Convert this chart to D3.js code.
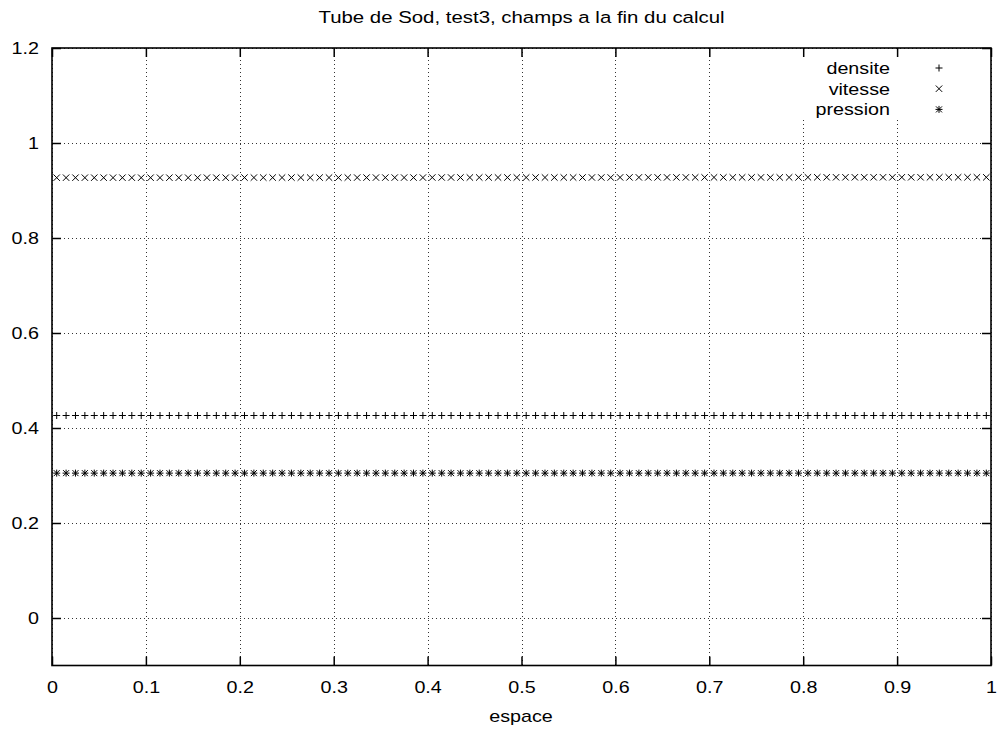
<!DOCTYPE html>
<html>
<head>
<meta charset="utf-8">
<script src="https://cdn.jsdelivr.net/npm/d3@7"></script>
<style>
html,body{margin:0;padding:0;background:#fff;}
svg{display:block;}
text{font-family:"Liberation Sans",Arial,Helvetica,sans-serif;font-size:17px;fill:#000;}
</style>
</head>
<body>
<svg id="chart" width="1001" height="731"></svg>
<script>
// ---- data ----
const title = "Tube de Sod, test3, champs a la fin du calcul";
const xLabel = "espace";
const seriesNames = ["densite", "vitesse", "pression"];
const xTickValues = [0, 0.1, 0.2, 0.3, 0.4, 0.5, 0.6, 0.7, 0.8, 0.9, 1];
const xTickLabels = ["0", "0.1", "0.2", "0.3", "0.4", "0.5", "0.6", "0.7", "0.8", "0.9", "1"];
const yTickValues = [0, 0.2, 0.4, 0.6, 0.8, 1, 1.2];
const yTickLabels = ["0", "0.2", "0.4", "0.6", "0.8", "1", "1.2"];
const espace = [
0.005,0.015,0.025,0.035,0.045,0.055,0.065,0.075,0.085,0.095,
0.105,0.115,0.125,0.135,0.145,0.155,0.165,0.175,0.185,0.195,
0.205,0.215,0.225,0.235,0.245,0.255,0.265,0.275,0.285,0.295,
0.305,0.315,0.325,0.335,0.345,0.355,0.365,0.375,0.385,0.395,
0.405,0.415,0.425,0.435,0.445,0.455,0.465,0.475,0.485,0.495,
0.505,0.515,0.525,0.535,0.545,0.555,0.565,0.575,0.585,0.595,
0.605,0.615,0.625,0.635,0.645,0.655,0.665,0.675,0.685,0.695,
0.705,0.715,0.725,0.735,0.745,0.755,0.765,0.775,0.785,0.795,
0.805,0.815,0.825,0.835,0.845,0.855,0.865,0.875,0.885,0.895,
0.905,0.915,0.925,0.935,0.945,0.955,0.965,0.975,0.985,0.995];
const densite = [
0.4263,0.4263,0.4263,0.4263,0.4263,0.4263,0.4263,0.4263,0.4263,0.4263,
0.4263,0.4263,0.4263,0.4263,0.4263,0.4263,0.4263,0.4263,0.4263,0.4263,
0.4263,0.4263,0.4263,0.4263,0.4263,0.4263,0.4263,0.4263,0.4263,0.4263,
0.4263,0.4263,0.4263,0.4263,0.4263,0.4263,0.4263,0.4263,0.4263,0.4263,
0.4263,0.4263,0.4263,0.4263,0.4263,0.4263,0.4263,0.4263,0.4263,0.4263,
0.4263,0.4263,0.4263,0.4263,0.4263,0.4263,0.4263,0.4263,0.4263,0.4263,
0.4263,0.4263,0.4263,0.4263,0.4263,0.4263,0.4263,0.4263,0.4263,0.4263,
0.4263,0.4263,0.4263,0.4263,0.4263,0.4263,0.4263,0.4263,0.4263,0.4263,
0.4263,0.4263,0.4263,0.4263,0.4263,0.4263,0.4263,0.4263,0.4263,0.4263,
0.4263,0.4263,0.4263,0.4263,0.4263,0.4263,0.4263,0.4263,0.4263,0.4263];
const vitesse = [
0.9270,0.9270,0.9270,0.9270,0.9270,0.9270,0.9270,0.9270,0.9270,0.9270,
0.9270,0.9270,0.9270,0.9270,0.9270,0.9270,0.9270,0.9270,0.9270,0.9270,
0.9272,0.9272,0.9272,0.9272,0.9272,0.9272,0.9272,0.9272,0.9272,0.9272,
0.9272,0.9272,0.9272,0.9272,0.9272,0.9272,0.9272,0.9272,0.9272,0.9272,
0.9274,0.9274,0.9274,0.9274,0.9274,0.9274,0.9274,0.9274,0.9274,0.9274,
0.9274,0.9274,0.9274,0.9274,0.9274,0.9274,0.9274,0.9274,0.9274,0.9274,
0.9276,0.9276,0.9276,0.9276,0.9276,0.9276,0.9276,0.9276,0.9276,0.9276,
0.9276,0.9276,0.9276,0.9276,0.9276,0.9276,0.9276,0.9276,0.9276,0.9276,
0.9278,0.9278,0.9278,0.9278,0.9278,0.9278,0.9278,0.9278,0.9278,0.9278,
0.9278,0.9278,0.9278,0.9278,0.9278,0.9278,0.9278,0.9278,0.9278,0.9278];
const pression = [
0.3050,0.3050,0.3050,0.3050,0.3050,0.3050,0.3050,0.3050,0.3050,0.3050,
0.3050,0.3050,0.3050,0.3050,0.3050,0.3050,0.3050,0.3050,0.3050,0.3050,
0.3050,0.3050,0.3050,0.3050,0.3050,0.3050,0.3050,0.3050,0.3050,0.3050,
0.3050,0.3050,0.3050,0.3050,0.3050,0.3050,0.3050,0.3050,0.3050,0.3050,
0.3050,0.3050,0.3050,0.3050,0.3050,0.3050,0.3050,0.3050,0.3050,0.3050,
0.3050,0.3050,0.3050,0.3050,0.3050,0.3050,0.3050,0.3050,0.3050,0.3050,
0.3050,0.3050,0.3050,0.3050,0.3050,0.3050,0.3050,0.3050,0.3050,0.3050,
0.3050,0.3050,0.3050,0.3050,0.3050,0.3050,0.3050,0.3050,0.3050,0.3050,
0.3050,0.3050,0.3050,0.3050,0.3050,0.3050,0.3050,0.3050,0.3050,0.3050,
0.3050,0.3050,0.3050,0.3050,0.3050,0.3050,0.3050,0.3050,0.3050,0.3050];

// ---- layout ----
const L = 52, R = 991, T = 48, B = 665.5;
const SX = 1.16; // horizontal stretch of the gnuplot font
const svg = d3.select("#chart");
const x = d3.scaleLinear().domain([0, 1]).range([L, R]);
const y = d3.scaleLinear().domain([-0.1, 1.2]).range([B, T]);

function label(parent, px, py, str, anchor, sx) {
  parent.append("g").attr("transform", `translate(${px},${py}) scale(${sx || SX},1)`)
    .append("text").attr("text-anchor", anchor).text(str);
}

// grid
const grid = svg.append("g").attr("stroke", "#333").attr("stroke-width", 1)
  .attr("stroke-dasharray", "1,3").attr("shape-rendering", "crispEdges");
grid.selectAll("line.gx").data(xTickValues).join("line").attr("class", "gx")
  .attr("x1", d => Math.round(x(d)) + 0.5).attr("x2", d => Math.round(x(d)) + 0.5)
  .attr("y1", T).attr("y2", B);
grid.selectAll("line.gy").data(yTickValues).join("line").attr("class", "gy")
  .attr("y1", d => Math.round(y(d)) + 0.5).attr("y2", d => Math.round(y(d)) + 0.5)
  .attr("x1", L).attr("x2", R);

// legend background
svg.append("rect").attr("x", 798).attr("y", 56).attr("width", 160).attr("height", 63).attr("fill", "#fff");

// axes with inward ticks (mirrored)
const axG = svg.append("g");
const mkAxis = (g) => {
  g.selectAll(".domain").remove();
  g.selectAll(".tick line").attr("stroke", "#000").attr("stroke-width", 1.5);
};
const axBottom = axG.append("g").attr("transform", `translate(0,${B})`)
  .call(d3.axisBottom(x).tickValues(xTickValues).tickSize(-9).tickFormat((d, i) => xTickLabels[i]));
mkAxis(axBottom);
axBottom.selectAll(".tick text").attr("y", null).attr("dy", null)
  .attr("transform", `translate(0,27) scale(${SX},1)`).attr("font-size", 17).attr("font-family", null);
const axLeft = axG.append("g").attr("transform", `translate(${L},0)`)
  .call(d3.axisLeft(y).tickValues(yTickValues).tickSize(-9).tickFormat((d, i) => yTickLabels[i]));
mkAxis(axLeft);
axLeft.selectAll(".tick text").attr("x", null).attr("dy", "0.35em")
  .attr("transform", `translate(-13,0) scale(${SX},1)`).attr("font-size", 17).attr("font-family", null);
const axTop = axG.append("g").attr("transform", `translate(0,${T})`)
  .call(d3.axisTop(x).tickValues(xTickValues).tickSize(-9).tickFormat(""));
mkAxis(axTop);
const axRight = axG.append("g").attr("transform", `translate(${R},0)`)
  .call(d3.axisRight(y).tickValues(yTickValues).tickSize(-9).tickFormat(""));
mkAxis(axRight);
axG.selectAll("text").attr("fill", "#000");

// frame
svg.append("rect").attr("x", L).attr("y", T).attr("width", R - L).attr("height", B - T)
  .attr("fill", "none").attr("stroke", "#000").attr("stroke-width", 1.6);

// markers
const shapes = {
  densite: "M-3.5,0H3.5M0,-3.5V3.5",
  vitesse: "M-3.2,-3.2L3.2,3.2M-3.2,3.2L3.2,-3.2",
  pression: "M-3.5,0H3.5M0,-3.5V3.5M-3,-3L3,3M-3,3L3,-3"
};
const seriesData = { densite, vitesse, pression };
const marks = svg.append("g").attr("stroke", "#000").attr("stroke-width", 1).attr("fill", "none");
seriesNames.forEach(name => {
  marks.append("g").selectAll("path").data(espace.map((e, i) => [e, seriesData[name][i]]))
    .join("path").attr("d", shapes[name])
    .attr("transform", d => `translate(${x(d[0])},${y(d[1])})`);
});

// legend
const leg = svg.append("g");
seriesNames.forEach((name, i) => {
  const cy = 68 + i * 20.7;
  label(leg, 890, cy + 6, name, "end");
  leg.append("path").attr("d", shapes[name]).attr("stroke", "#000").attr("fill", "none")
    .attr("transform", `translate(939,${cy})`);
});

// titles
label(svg, 521.5, 23, title, "middle", 1.2);
label(svg, 521, 722, xLabel, "middle");
</script>
</body>
</html>
